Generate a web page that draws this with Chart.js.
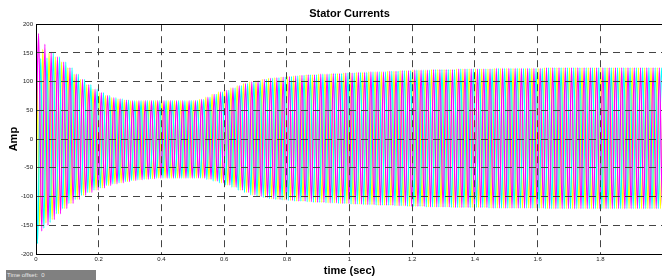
<!DOCTYPE html>
<html>
<head>
<meta charset="utf-8">
<script src="https://cdn.jsdelivr.net/npm/chart.js@4/dist/chart.umd.min.js"></script>
<style>
  html, body { margin: 0; padding: 0; background: #fff; overflow: hidden; }
  #wrap { position: relative; width: 680px; height: 280px; }
  #offset {
    position: absolute; left: 6px; top: 270px; width: 89px; height: 10px;
    background: #808080; color: #e8e8e8; white-space: pre;
    font: 6px "Liberation Sans", Arial, sans-serif; line-height: 10px; padding-left: 1px;
  }
</style>
</head>
<body>
<div id="wrap">
  <canvas id="scope" width="680" height="280"></canvas>
  <div id="offset">Time offset:  0</div>
</div>
<script>
// ---- data ----
const freqHz = 50;          // supply frequency
const tEnd = 2;             // seconds shown

// positive / negative peak of each cycle (one value per 20 ms cycle)
const upperPeak = [
  165, 155, 150, 143, 134, 124, 113, 104, 95, 87,
  81, 76, 72, 70, 68, 67, 67, 67, 67, 67,
  67, 67, 67, 67, 67, 67, 69, 73, 78, 82,
  85, 89, 93, 97, 100, 102, 104, 106, 107, 108,
  109, 110, 111, 112, 112, 113, 113, 114, 114, 115,
  115, 116, 116, 117, 117, 117, 118, 118, 119, 119,
  120, 120, 120, 121, 121, 121, 121, 122, 122, 122,
  122, 122, 122, 123, 123, 123, 123, 123, 123, 123,
  123, 124, 124, 124, 124, 124, 124, 124, 124, 124,
  124, 124, 124, 124, 124, 124, 124, 124, 124, 124
];
const lowerPeak = [
  -165, -150, -140, -130, -121, -112, -105, -98, -93, -89,
  -85, -81, -78, -76, -74, -72, -71, -70, -69, -68,
  -68, -68, -68, -68, -68, -68, -68, -70, -73, -76,
  -80, -84, -89, -93, -97, -100, -102, -104, -105, -106,
  -107, -108, -108, -109, -110, -110, -111, -111, -112, -112,
  -113, -113, -114, -114, -115, -115, -115, -116, -116, -117,
  -117, -117, -118, -118, -118, -118, -119, -119, -119, -119,
  -119, -119, -120, -120, -120, -120, -120, -120, -120, -120,
  -120, -121, -121, -121, -121, -121, -121, -121, -121, -121,
  -121, -121, -121, -121, -121, -121, -121, -121, -121, -121
];

// start-up transient: first peaks of each phase (they carry a decaying offset)
const phaseNames = ['Ia', 'Ib', 'Ic'];
const firstPeakTime = [0.00167, 0.00833, 0.005];   // s, time of first extremum
const firstPeaks = [
  [135, -150, 156, -146, 150],     // yellow
  [184, -160, 165, -150, 151],     // magenta
  [-182, 140, -155, 141, -145]     // cyan
];

// ---- build the traces: one point per extremum, drawn as a smooth curve ----
const cycle = 1 / freqHz;
const half = cycle / 2;

function phasePoints(p) {
  const pts = [{ x: 0, y: 0 }];
  const first = firstPeaks[p];
  let sign = Math.sign(first[0]);
  for (let n = 0; ; n++) {
    const t = firstPeakTime[p] + n * half;
    if (t > tEnd + half) break;
    const k = Math.min(Math.floor(t / cycle), upperPeak.length - 1);
    const v = n < first.length ? first[n] : (sign > 0 ? upperPeak[k] : lowerPeak[k]);
    pts.push({ x: t, y: v });
    sign = -sign;
  }
  return pts;
}

const colors = ['#ffff00', '#ff00ff', '#00ffff'];
const drawOrder = [3, 1, 2];   // magenta on top, yellow underneath
const FONT = '"Liberation Sans", Arial, Helvetica, sans-serif';

const datasets = phaseNames.map((name, p) => ({
  label: name,
  data: phasePoints(p),
  borderColor: colors[p],
  borderWidth: 1.25,
  pointRadius: 0,
  fill: false,
  cubicInterpolationMode: 'monotone',
  order: drawOrder[p]
}));

const edge = (v, lo, hi) => Math.abs(v - lo) < 1e-9 || Math.abs(v - hi) < 1e-9;

new Chart(document.getElementById('scope'), {
  type: 'line',
  data: { datasets },
  options: {
    responsive: false,
    animation: false,
    parsing: false,
    normalized: true,
    events: [],
    layout: { padding: { left: 0, right: 17, top: 0, bottom: 0 } },
    plugins: {
      legend: { display: false },
      tooltip: { enabled: false },
      title: {
        display: true,
        text: 'Stator Currents',
        fullSize: false,
        color: '#000',
        font: { family: FONT, size: 11, weight: 'bold' },
        padding: { top: 7, bottom: 4 }
      }
    },
    scales: {
      x: {
        type: 'linear',
        min: 0,
        max: tEnd,
        afterFit: (s) => { s.height = 26; },
        ticks: {
          stepSize: 0.2,
          autoSkip: false,
          maxRotation: 0,
          padding: 2,
          color: '#222',
          font: { family: FONT, size: 6 },
          callback: (v) => (Math.abs(v - tEnd) < 1e-9 ? '' : String(Math.round(v * 10) / 10))
        },
        grid: {
          z: 1,
          drawTicks: false,
          lineWidth: 1,
          color: (c) => (c.tick && edge(c.tick.value, 0, tEnd) ? '#000' : '#444')
        },
        border: {
          z: 2,
          color: '#000',
          width: 1,
          dash: (c) => (c.tick && edge(c.tick.value, 0, tEnd) ? [] : [7, 5])
        },
        title: {
          display: true,
          text: 'time (sec)',
          color: '#000',
          font: { family: FONT, size: 11, weight: 'bold' },
          padding: { top: 0, bottom: 2 }
        }
      },
      y: {
        min: -200,
        max: 200,
        afterFit: (s) => { s.width = 36; },
        ticks: {
          stepSize: 50,
          padding: 3,
          color: '#222',
          font: { family: FONT, size: 6 }
        },
        grid: {
          z: 1,
          drawTicks: false,
          lineWidth: 1,
          color: (c) => (c.tick && edge(c.tick.value, -200, 200) ? '#000' : '#444')
        },
        border: {
          z: 2,
          color: '#000',
          width: 1,
          dash: (c) => (c.tick && edge(c.tick.value, -200, 200) ? [] : [7, 5])
        },
        title: {
          display: true,
          text: 'Amp',
          color: '#000',
          font: { family: FONT, size: 11, weight: 'bold' },
          padding: { top: 7, bottom: 0 }
        }
      }
    }
  }
});
</script>
</body>
</html>
